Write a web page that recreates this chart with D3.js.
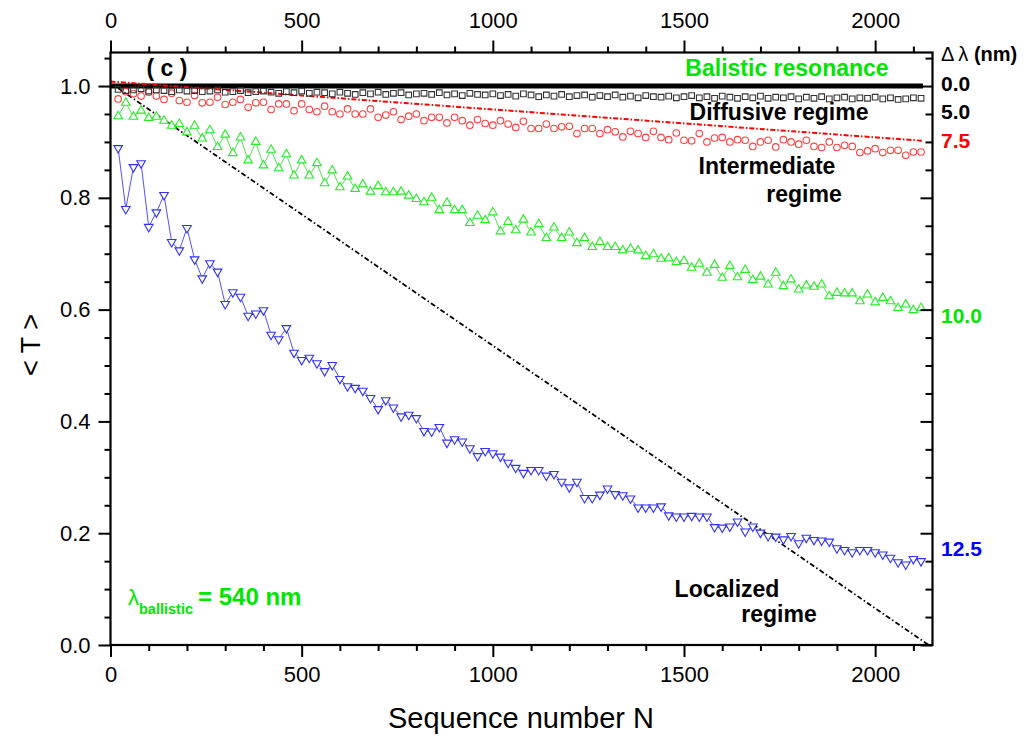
<!DOCTYPE html>
<html>
<head>
<meta charset="utf-8">
<script src="https://cdn.jsdelivr.net/npm/d3@7/dist/d3.min.js"></script>
<style>
  html, body { margin: 0; padding: 0; background: #fff; }
  svg text { font-family: "Liberation Sans", Arial, sans-serif; }
</style>
</head>
<body>
<svg id="chart" width="1036" height="740"></svg>
<script>
// Sequence numbers N of the sampled structures
const seqN = [20,40,60,80,100,120,140,160,180,200,220,240,260,280,300,320,340,360,380,400,
  420,440,460,480,500,520,540,560,580,600,620,640,660,680,700,720,740,760,780,800,
  820,840,860,880,900,920,940,960,980,1000,1020,1040,1060,1080,1100,1120,1140,1160,1180,1200,
  1220,1240,1260,1280,1300,1320,1340,1360,1380,1400,1420,1440,1460,1480,1500,1520,1540,1560,1580,1600,
  1620,1640,1660,1680,1700,1720,1740,1760,1780,1800,1820,1840,1860,1880,1900,1920,1940,1960,1980,2000,
  2020,2040,2060,2080,2100,2120];

// <T> for detuning 5.0 nm (diffusive regime)
const t50 = [0.994,0.992,0.993,0.995,0.991,0.993,0.992,0.990,0.993,0.991,
  0.992,0.990,0.991,0.993,0.989,0.990,0.992,0.988,0.990,0.991,
  0.989,0.987,0.990,0.988,0.991,0.987,0.989,0.988,0.986,0.989,
  0.987,0.985,0.988,0.986,0.989,0.985,0.987,0.988,0.984,0.986,
  0.987,0.985,0.988,0.984,0.986,0.983,0.987,0.985,0.984,0.986,
  0.983,0.985,0.982,0.986,0.984,0.981,0.984,0.982,0.985,0.981,
  0.983,0.984,0.980,0.983,0.981,0.984,0.980,0.982,0.979,0.983,
  0.981,0.980,0.982,0.979,0.981,0.983,0.979,0.981,0.978,0.982,
  0.980,0.978,0.981,0.979,0.982,0.978,0.980,0.979,0.981,0.977,
  0.980,0.978,0.981,0.977,0.979,0.980,0.977,0.979,0.978,0.980,
  0.977,0.979,0.976,0.977,0.979,0.978];

// <T> for detuning 7.5 nm
const t75 = [0.977,0.990,0.986,0.982,0.989,0.982,0.976,0.987,0.974,0.971,
  0.983,0.970,0.971,0.980,0.967,0.971,0.976,0.962,0.970,0.971,
  0.958,0.968,0.968,0.956,0.968,0.958,0.954,0.964,0.954,0.950,
  0.959,0.950,0.950,0.959,0.944,0.948,0.954,0.940,0.946,0.950,
  0.938,0.944,0.944,0.934,0.944,0.938,0.930,0.940,0.933,0.930,
  0.938,0.932,0.926,0.937,0.924,0.924,0.932,0.924,0.927,0.928,
  0.915,0.924,0.924,0.915,0.922,0.918,0.909,0.919,0.915,0.908,
  0.919,0.908,0.904,0.916,0.903,0.902,0.915,0.900,0.907,0.908,
  0.900,0.904,0.903,0.892,0.900,0.903,0.891,0.904,0.900,0.896,
  0.903,0.892,0.890,0.900,0.890,0.894,0.892,0.881,0.884,0.888,
  0.881,0.885,0.885,0.876,0.882,0.882];

// <T> for detuning 10.0 nm (intermediate regime)
const t100 = [0.946,0.970,0.945,0.956,0.943,0.945,0.938,0.929,0.932,0.917,
  0.929,0.906,0.921,0.891,0.913,0.880,0.908,0.867,0.900,0.858,
  0.886,0.853,0.878,0.840,0.867,0.840,0.862,0.826,0.849,0.819,
  0.838,0.816,0.824,0.811,0.821,0.810,0.810,0.811,0.804,0.798,
  0.792,0.800,0.778,0.791,0.778,0.778,0.755,0.768,0.760,0.774,
  0.740,0.757,0.742,0.761,0.738,0.753,0.728,0.747,0.728,0.738,
  0.719,0.728,0.712,0.721,0.712,0.712,0.706,0.709,0.706,0.696,
  0.699,0.691,0.692,0.685,0.687,0.675,0.682,0.666,0.680,0.657,
  0.678,0.658,0.671,0.653,0.659,0.645,0.666,0.642,0.654,0.636,
  0.643,0.641,0.645,0.624,0.630,0.629,0.629,0.615,0.627,0.613,
  0.621,0.615,0.603,0.609,0.599,0.603];

// <T> for detuning 12.5 nm (localized regime)
const t125 = [0.889,0.780,0.855,0.862,0.748,0.774,0.805,0.721,0.706,0.746,
  0.690,0.656,0.683,0.668,0.610,0.631,0.623,0.589,0.593,0.599,
  0.555,0.547,0.567,0.523,0.510,0.514,0.504,0.490,0.501,0.476,
  0.463,0.460,0.455,0.442,0.422,0.438,0.425,0.409,0.412,0.406,
  0.383,0.382,0.390,0.362,0.368,0.364,0.352,0.338,0.347,0.343,
  0.337,0.326,0.317,0.308,0.313,0.313,0.303,0.306,0.292,0.282,
  0.292,0.263,0.263,0.269,0.280,0.270,0.268,0.262,0.246,0.246,
  0.246,0.248,0.232,0.230,0.230,0.231,0.230,0.230,0.211,0.210,
  0.212,0.221,0.203,0.212,0.201,0.195,0.194,0.189,0.195,0.182,
  0.192,0.188,0.187,0.185,0.173,0.170,0.166,0.170,0.170,0.166,
  0.162,0.156,0.148,0.144,0.154,0.150];

// Reference lines: [N, T] end points
const ballisticLine = [[0, 1.0], [2125, 1.0]];
const diffusiveFit = [[0, 1.008], [2125, 0.902]];
const localizedFit = [[20, 0.996], [2140, 0.0]];

// Axis ticks
const xMajor = [0, 500, 1000, 1500, 2000];
const xMinor = [100,200,300,400,600,700,800,900,1100,1200,1300,1400,1600,1700,1800,1900,2100];
const yMajor = [0.0, 0.2, 0.4, 0.6, 0.8, 1.0];
const yMinor = [0.05,0.1,0.15,0.25,0.3,0.35,0.45,0.5,0.55,0.65,0.7,0.75,0.85,0.9,0.95,1.05];

// Right-hand detuning labels: [text, T position, colour]
const detuneLabels = [["0.0", 1.005, "#000"], ["5.0", 0.954, "#000"], ["7.5", 0.902, "#ff0000"],
  ["10.0", 0.589, "#00e600"], ["12.5", 0.172, "#0000ff"]];

(function draw() {
  const svg = d3.select("#chart");
  svg.append("rect").attr("width", 1036).attr("height", 740).attr("fill", "#fff");

  const plotL = 110.5, plotR = 932.5, plotT = 52.5, plotB = 645;
  const x = d3.scaleLinear().domain([0, 2150]).range([plotL, plotR]);
  const y = d3.scaleLinear().domain([0, 1.06]).range([plotB, plotT]);

  svg.append("defs").append("clipPath").attr("id", "plot-clip")
    .append("rect").attr("x", plotL).attr("y", plotT).attr("width", plotR - plotL).attr("height", plotB - plotT);

  const plot = svg.append("g").attr("clip-path", "url(#plot-clip)");
  const line = d3.line().x(d => x(d[0])).y(d => y(d[1]));

  // Ballistic resonance: T = 1
  plot.append("path").datum(ballisticLine).attr("d", line)
    .attr("stroke", "#000").attr("stroke-width", 5).attr("fill", "none");

  // Fits
  plot.append("path").datum(diffusiveFit).attr("d", line)
    .attr("stroke", "#ff0000").attr("stroke-width", 2).attr("fill", "none")
    .attr("stroke-dasharray", "5,2,1.5,2");
  plot.append("path").datum(localizedFit).attr("d", line)
    .attr("stroke", "#000").attr("stroke-width", 1.8).attr("fill", "none")
    .attr("stroke-dasharray", "5,2.5,1.5,2.5");

  const pts = arr => seqN.map((n, i) => [n, arr[i]]);

  // 12.5 nm: connected down-triangles
  plot.append("path").datum(pts(t125)).attr("d", line)
    .attr("stroke", "#5050ff").attr("stroke-width", 1).attr("fill", "none");
  plot.append("g").selectAll("path").data(pts(t125)).join("path")
    .attr("d", d3.symbol(d3.symbolTriangle, 32))
    .attr("transform", d => `translate(${x(d[0])},${y(d[1])}) rotate(180)`)
    .attr("fill", "#fff").attr("stroke", "#3030ff").attr("stroke-width", 1.1);

  // 10.0 nm: connected up-triangles
  plot.append("path").datum(pts(t100)).attr("d", line)
    .attr("stroke", "#40e040").attr("stroke-width", 0.9).attr("fill", "none");
  plot.append("g").selectAll("path").data(pts(t100)).join("path")
    .attr("d", d3.symbol(d3.symbolTriangle, 32))
    .attr("transform", d => `translate(${x(d[0])},${y(d[1])})`)
    .attr("fill", "#fff").attr("stroke", "#22ee22").attr("stroke-width", 1.1);

  // 7.5 nm: open circles
  plot.append("g").selectAll("circle").data(pts(t75)).join("circle")
    .attr("cx", d => x(d[0])).attr("cy", d => y(d[1])).attr("r", 3.3)
    .attr("fill", "none").attr("stroke", "#ff4040").attr("stroke-width", 1.1);

  // 5.0 nm: open squares
  plot.append("g").selectAll("path").data(pts(t50)).join("path")
    .attr("d", d3.symbol(d3.symbolSquare, 32))
    .attr("transform", d => `translate(${x(d[0])},${y(d[1])})`)
    .attr("fill", "none").attr("stroke", "#333").attr("stroke-width", 1.1);

  // Axes
  const axisStyle = g => {
    g.select(".domain").remove();
    g.selectAll("line").attr("stroke", "#000").attr("stroke-width", 2);
    g.selectAll("text").attr("font-size", 22).attr("fill", "#000")
      .attr("font-family", "'Liberation Sans', Arial, sans-serif");
  };
  svg.append("g").attr("transform", `translate(0,${plotB})`)
    .call(d3.axisBottom(x).tickValues(xMajor).tickFormat(d3.format("d")).tickSize(12).tickPadding(9))
    .call(axisStyle);
  svg.append("g").attr("transform", `translate(0,${plotB})`)
    .call(d3.axisBottom(x).tickValues(xMinor).tickFormat("").tickSize(6)).call(axisStyle);
  svg.append("g").attr("transform", `translate(0,${plotT})`)
    .call(d3.axisTop(x).tickValues(xMajor).tickFormat(d3.format("d")).tickSize(12).tickPadding(13))
    .call(axisStyle);
  svg.append("g").attr("transform", `translate(0,${plotT})`)
    .call(d3.axisTop(x).tickValues(xMinor).tickFormat("").tickSize(6)).call(axisStyle);
  svg.append("g").attr("transform", `translate(${plotL},0)`)
    .call(d3.axisLeft(y).tickValues(yMajor).tickFormat(d3.format(".1f")).tickSize(12).tickPadding(8))
    .call(axisStyle);
  svg.append("g").attr("transform", `translate(${plotL},0)`)
    .call(d3.axisLeft(y).tickValues(yMinor).tickFormat("").tickSize(6)).call(axisStyle);
  svg.append("g").attr("transform", `translate(${plotR},0)`)
    .call(d3.axisLeft(y).tickValues(yMajor).tickFormat("").tickSize(12)).call(axisStyle);
  svg.append("g").attr("transform", `translate(${plotR},0)`)
    .call(d3.axisLeft(y).tickValues(yMinor).tickFormat("").tickSize(7)).call(axisStyle);

  svg.append("rect").attr("x", plotL).attr("y", plotT).attr("width", plotR - plotL).attr("height", plotB - plotT)
    .attr("fill", "none").attr("stroke", "#000").attr("stroke-width", 2.2);

  // Axis titles
  svg.append("text").attr("x", 521).attr("y", 728).attr("text-anchor", "middle")
    .attr("font-size", 29).text("Sequence number N");
  svg.append("text").attr("transform", "translate(40,345) rotate(-90)").attr("text-anchor", "middle")
    .attr("font-size", 27).text("< T >");

  // Right-hand labels
  const rl = svg.append("text").attr("x", 941).attr("y", 61).attr("font-size", 20);
  rl.append("tspan").text("\u0394\u2009\u03bb ");
  rl.append("tspan").attr("font-weight", "bold").text("(nm)");
  svg.append("g").selectAll("text").data(detuneLabels).join("text")
    .attr("x", 941).attr("y", d => y(d[1])).attr("dy", "0.36em")
    .attr("font-size", 21).attr("font-weight", "bold").attr("fill", d => d[2]).text(d => d[0]);

  // Annotations
  const note = (tx, ty, str, color) => svg.append("text").attr("x", tx).attr("y", ty)
    .attr("text-anchor", "middle").attr("font-size", 23).attr("font-weight", "bold")
    .attr("fill", color || "#000").text(str);
  note(167, 76, "( c )");
  note(787, 76, "Balistic resonance", "#00e600");
  note(779, 120, "Diffusive regime");
  note(767, 174, "Intermediate");
  note(804, 202, "regime");
  note(727, 597, "Localized");
  note(779, 622, "regime");

  const lam = svg.append("text").attr("x", 128).attr("y", 605).attr("fill", "#00e600");
  lam.append("tspan").attr("font-size", 22).text("\u03bb");
  lam.append("tspan").attr("font-size", 14.5).attr("font-weight", "bold").attr("dy", 9).text("ballistic");
  lam.append("tspan").attr("font-size", 24).attr("font-weight", "bold").attr("dy", -9).attr("dx", 5).text("= 540 nm");
})();
</script>
</body>
</html>
